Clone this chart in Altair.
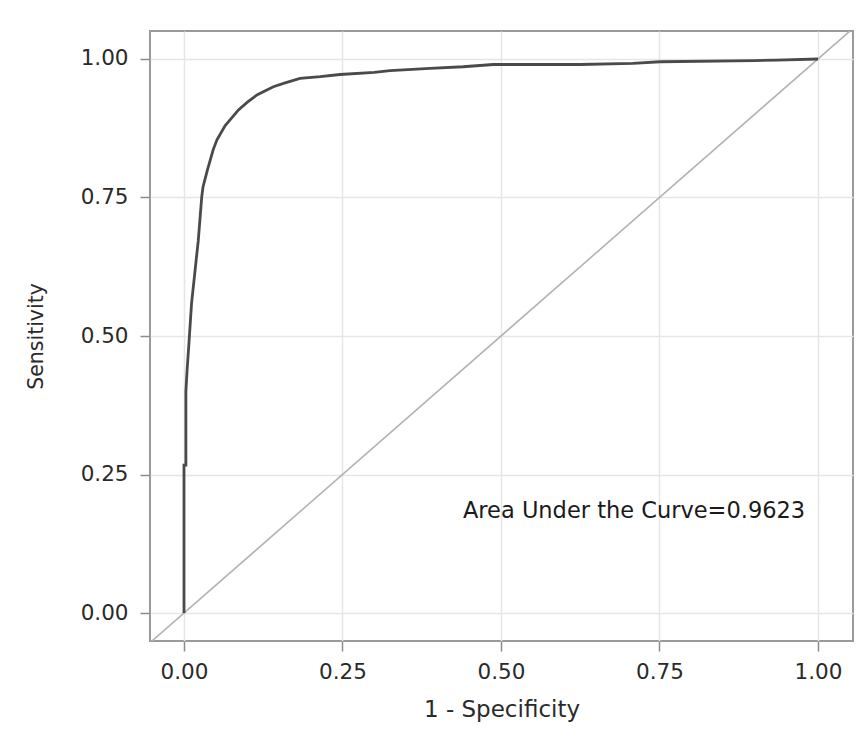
import altair as alt
import pandas as pd

# ROC curve points
fpr = [0.0, 0.0, 0.003, 0.003, 0.005, 0.008, 0.012, 0.017, 0.0226, 0.028, 0.030, 0.037,
       0.046, 0.052, 0.065, 0.086, 0.100, 0.115, 0.141, 0.157, 0.183, 0.215, 0.246,
       0.300, 0.325, 0.388, 0.440, 0.488, 0.625, 0.708, 0.751, 0.900, 0.935, 1.0]
tpr = [0.0, 0.267, 0.267, 0.40, 0.44, 0.49, 0.56, 0.613, 0.673, 0.751, 0.769, 0.80,
       0.836, 0.854, 0.88, 0.908, 0.922, 0.935, 0.950, 0.956, 0.965, 0.968, 0.972,
       0.976, 0.979, 0.983, 0.986, 0.990, 0.990, 0.992, 0.995, 0.997, 0.998, 1.0]

ref_line = [-0.1, 1.1]
tick_values = [0.0, 0.25, 0.50, 0.75, 1.00]
annotation = ["Area Under the Curve=0.9623"]
ann_x = [0.44]
ann_y = [0.171]

FONT = "DejaVu Sans"
XDOM = [-0.0536, 1.0552]
YDOM = [-0.0505, 1.0505]

roc = pd.DataFrame({"fpr": fpr, "tpr": tpr, "order": list(range(len(fpr)))})
diag = pd.DataFrame({"a": ref_line, "b": ref_line})
ann = pd.DataFrame({"label": annotation, "x": ann_x, "y": ann_y})

xscale = alt.Scale(domain=XDOM, nice=False, zero=False)
yscale = alt.Scale(domain=YDOM, nice=False, zero=False)

xaxis = alt.Axis(values=tick_values, format=".2f", title="1 - Specificity",
                 tickSize=10, labelPadding=10, titleY=75, titleBaseline="alphabetic")
yaxis = alt.Axis(values=tick_values, format=".2f", title="Sensitivity",
                 tickSize=10, labelPadding=12, titleX=-114, titleY=305,
                 titleAngle=-90, titleAlign="center", titleBaseline="middle")

diag_layer = alt.Chart(diag).mark_line(color="#b3b3b3", strokeWidth=1.6, clip=True).encode(
    x=alt.X("a:Q", scale=xscale, axis=xaxis),
    y=alt.Y("b:Q", scale=yscale, axis=yaxis),
)

curve = alt.Chart(roc).mark_line(color="#4a4a4a", strokeWidth=2.8, interpolate="linear").encode(
    x=alt.X("fpr:Q", scale=xscale),
    y=alt.Y("tpr:Q", scale=yscale),
    order="order:Q",
)

text = alt.Chart(ann).mark_text(align="left", baseline="alphabetic", font=FONT,
                                fontSize=22.5, color="#1a1a1a").encode(
    x=alt.X("x:Q", scale=xscale),
    y=alt.Y("y:Q", scale=yscale),
    text="label:N",
)

chart = (diag_layer + curve + text).properties(
    width=703, height=610,
    autosize=alt.AutoSizeParams(type="none"),
    padding={"left": 142, "top": 23, "right": 2, "bottom": 95},
    background="white",
).configure_view(
    stroke="#9a9a9a", strokeWidth=2
).configure_axis(
    grid=True, gridColor="#e6e6e6", gridWidth=1.5,
    domain=False, tickColor="#8c8c8c", tickWidth=1.5,
    labelFont=FONT, labelFontSize=21.5, labelColor="#2a2a2a",
    titleFont=FONT, titleFontSize=23, titleColor="#2a2a2a", titleFontWeight="normal",
).configure_axisY(titleFontSize=20.5)

chart.save("out.html", embed_options={"renderer": "svg", "actions": False})
